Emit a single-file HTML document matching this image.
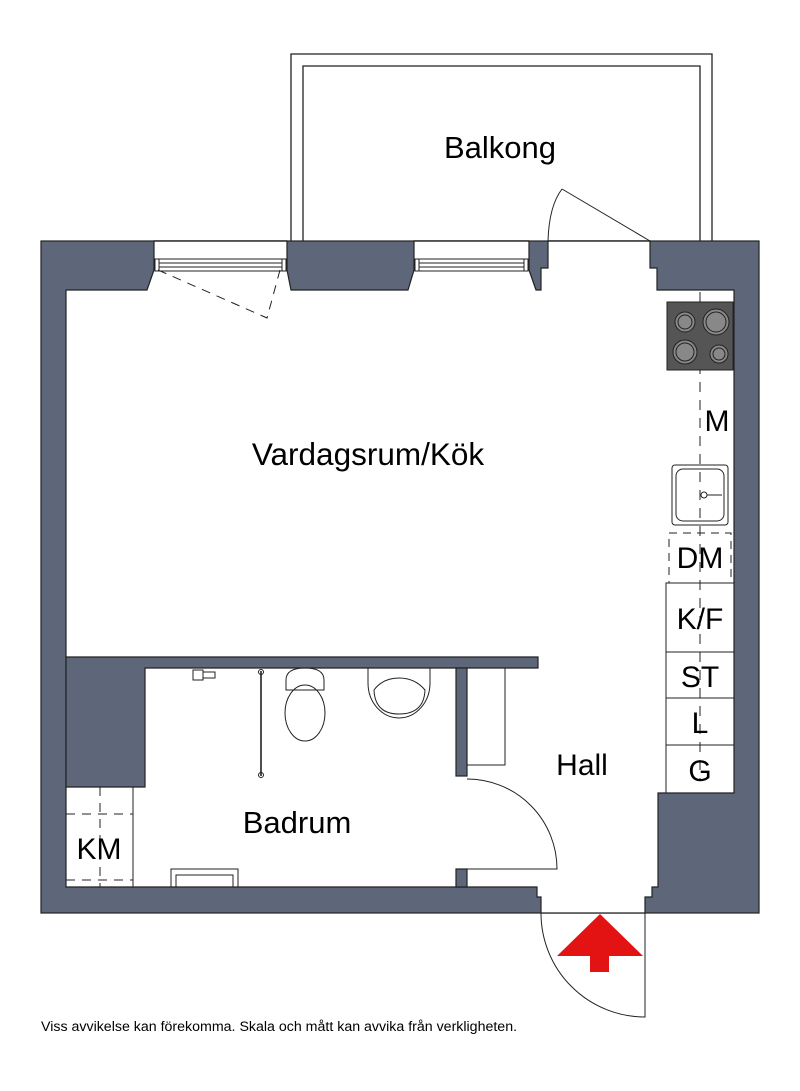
<!DOCTYPE html>
<html><head><meta charset="utf-8"><style>
html,body{margin:0;padding:0;background:#fff;width:800px;height:1091px;overflow:hidden}
svg{display:block}
text{font-family:"Liberation Sans",sans-serif;fill:#000}
</style></head><body>
<svg width="800" height="1091" viewBox="0 0 800 1091" xmlns="http://www.w3.org/2000/svg">
<path d="M291,241 V54 H712 V241 M303,241 V66 H700 V241" fill="none" stroke="#222" stroke-width="1.3"/>
<rect x="41" y="241" width="718" height="672" fill="#5d6779" stroke="#222" stroke-width="1.2"/>
<polygon points="66,290 147,290 154,270 154,241 287,241 287,270 291,290 408,290 414,270 414,241 529,241 529,270 536,290 541,290 541,268 548,268 548,241 650,241 650,268 657,268 657,290 734,290 734,793 658,793 658,887 652,887 652,897 645,897 645,913 541,913 541,897 537,897 537,887 66,887" fill="#fff" stroke="#222" stroke-width="1.2"/>
<path d="M154,241 H287 M414,241 H529 M548,241 H650" stroke="#222" stroke-width="1.2"/>
<path d="M66,657 H538 V668 H145 V787 H66 Z" fill="#5d6779" stroke="#222" stroke-width="1.2"/>
<rect x="456" y="668" width="11" height="108" fill="#5d6779" stroke="#222" stroke-width="1.2"/>
<rect x="456" y="869" width="11" height="18" fill="#5d6779" stroke="#222" stroke-width="1.2"/>
<g fill="none" stroke="#222" stroke-width="1">
<rect x="155" y="259" width="131" height="12"/>
<path d="M159,259 V271 M282,259 V271 M159,263 H282 M159,267 H282"/>
<rect x="415" y="259" width="113" height="12"/>
<path d="M419,259 V271 M524,259 V271 M419,263 H524 M419,267 H524"/>
<path d="M158,270 L267,318 L280,270" stroke-dasharray="9,7"/>
<path d="M650,241 L562,189 M548,241 Q549,206 562,189"/>
<path d="M467,779 A90,90 0 0 1 557,869 H467"/>
<path d="M541,913 A104,104 0 0 0 645,1017 V913 M541,913 H645"/>
<rect x="467" y="668" width="38" height="97"/>
<path d="M700,292 V780" stroke-dasharray="10,8"/>
<rect x="666" y="583" width="68" height="69"/>
<rect x="666" y="652" width="68" height="46"/>
<rect x="666" y="698" width="68" height="47"/>
<rect x="666" y="745" width="68" height="48"/>
<rect x="669" y="533" width="62" height="50" stroke-dasharray="8,6"/>
<rect x="672" y="465" width="56" height="60" rx="3"/>
<rect x="676" y="469" width="48" height="52" rx="7"/>
<circle cx="704" cy="495" r="3"/><path d="M707,495 H722"/>
<path d="M261,671 V776" stroke-width="1.6"/>
<circle cx="261" cy="672" r="2.5"/><circle cx="261" cy="775" r="2.5"/>
<path d="M286,680 Q286,668 305,668 Q324,668 324,680 V690 H286 Z"/>
<ellipse cx="305" cy="713" rx="20" ry="28"/>
<path d="M368,668 V683 A31,35 0 0 0 430,683 V668"/>
<path d="M374,690 Q375,714 399,714 Q424,714 425,690 Q415,678 399,678 Q383,678 374,690 Z"/>
<path d="M193,670 h10 v10 h-10 z M203,672 h12 v6 h-12 z"/>
<rect x="66" y="787" width="67" height="100"/>
<path d="M66,814 H133 M66,880 H133 M100,787 V887" stroke-dasharray="9,7"/>
<rect x="171" y="869" width="67" height="18"/>
<rect x="176" y="875" width="57" height="12"/>
</g>
<rect x="667" y="302" width="66" height="68" fill="#555" stroke="#222"/>
<g fill="#888" stroke="#222" stroke-width="1">
<circle cx="685" cy="322" r="10"/><circle cx="685" cy="322" r="7"/>
<circle cx="716" cy="322" r="13"/><circle cx="716" cy="322" r="10"/>
<circle cx="685" cy="352" r="12"/><circle cx="685" cy="352" r="9"/>
<circle cx="719" cy="354" r="9"/><circle cx="719" cy="354" r="6"/>
</g>
<path d="M600,914 L643,956 L609,956 L609,972 L590,972 L590,956 L557,956 Z" fill="#e31313"/>
<text x="500" y="158" font-size="31" text-anchor="middle">Balkong</text>
<text x="368" y="465" font-size="31.5" text-anchor="middle">Vardagsrum/Kök</text>
<text x="297" y="833" font-size="31" text-anchor="middle">Badrum</text>
<text x="582" y="775" font-size="30" text-anchor="middle">Hall</text>
<text x="99" y="859" font-size="30" text-anchor="middle">KM</text>
<text x="717" y="431" font-size="30" text-anchor="middle">M</text>
<text x="700" y="568" font-size="30" text-anchor="middle">DM</text>
<text x="700" y="629" font-size="30" text-anchor="middle">K/F</text>
<text x="700" y="687" font-size="30" text-anchor="middle">ST</text>
<text x="700" y="733" font-size="30" text-anchor="middle">L</text>
<text x="700" y="781" font-size="30" text-anchor="middle">G</text>
<text x="41" y="1031" font-size="14.2">Viss avvikelse kan förekomma. Skala och mått kan avvika från verkligheten.</text>
</svg>
</body></html>
